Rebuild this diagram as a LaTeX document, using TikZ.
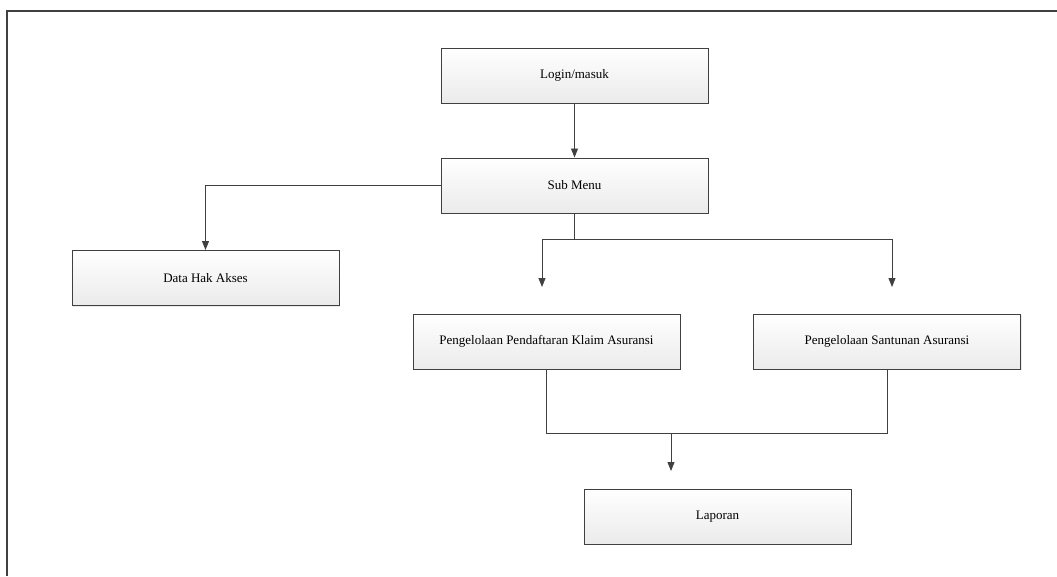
\documentclass[tikz,border=0pt]{standalone}
\usepackage{fontspec}
\setmainfont{Liberation Serif}
\usetikzlibrary{arrows.meta,shadows}

\definecolor{garis}{HTML}{404040}

\begin{document}
\begin{tikzpicture}[x=1pt,y=-1pt]
    \tikzstyle{kotak}=[draw=garis, line width=1pt, minimum width=267pt, minimum height=55pt,
        top color=white, bottom color=black!8, inner sep=0pt,
        font=\fontsize{13}{15}\selectfont,
        drop shadow={shadow xshift=1.2pt, shadow yshift=-1.2pt, opacity=0.15}]
    \tikzstyle{garisan}=[draw=garis, line width=0.9pt]
    \tikzstyle{panah}=[garisan, -{Triangle[length=9pt,width=7pt]}]
    \useasboundingbox (0,0) rectangle (1057,576);
    % bingkai
    \draw [garis, line width=1.2pt] (7,576) -- (7,11) -- (1057,11);
    % kotak menu
    \node [kotak] (login) at (574.5,75.5) {Login/masuk};
    \node [kotak] (sub) at (574.5,185.5) {Sub Menu};
    \node [kotak] (data) at (205.5,278) {Data Hak Akses};
    \node [kotak] (daftar) at (546.5,341.5) {Pengelolaan Pendaftaran Klaim Asuransi};
    \node [kotak] (santunan) at (887,341.5) {Pengelolaan Santunan Asuransi};
    \node [kotak] (laporan) at (717.5,516.5) {Laporan};
    % titik bantu
    \coordinate (cab) at (574.5,239);
    \coordinate (ujungA) at (542,287);
    \coordinate (ujungB) at (892,287);
    \coordinate (gab) at (671,433);
    \coordinate (ujungC) at (671,471);
    % panah
    \draw [panah] (login) -- (sub);
    \draw [panah] (sub.west) -| (data.north);
    \draw [garisan] (sub.south) -- (cab);
    \draw [panah] (cab) -| (ujungA);
    \draw [panah] (cab) -| (ujungB);
    \draw [garisan] (daftar.south) |- (gab);
    \draw [garisan] (santunan.south) |- (gab);
    \draw [panah] (gab) -- (ujungC);
\end{tikzpicture}
\end{document}
